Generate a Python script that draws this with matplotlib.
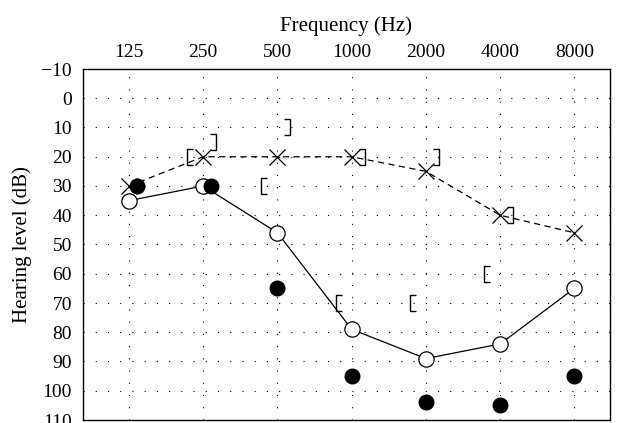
import numpy as np
import matplotlib
matplotlib.use("Agg")
import matplotlib.pyplot as plt
from matplotlib.path import Path
from matplotlib.transforms import ScaledTranslation

# audiogram data (dB HL), frequencies on top axis
freqs = [125, 250, 500, 1000, 2000, 4000, 8000]
right_ac = [35, 30, 46, 79, 89, 84, 65]          # open circles, solid line
left_ac = [30, 20, 20, 20, 25, 40, 46]           # crosses, dashed line
bone_freqs = [125, 250, 500, 1000, 2000, 4000, 8000]
bone_vals = [30, 30, 65, 95, 104, 105, 95]       # filled circles
rbr_freqs = [250, 500, 1000, 2000, 4000]
rbr_vals = [20, 30, 70, 70, 60]                  # "[" markers
lbr_freqs = [250, 500, 1000, 2000, 4000]
lbr_vals = [15, 10, 20, 20, 40]                  # "]" markers
yticks = list(range(-10, 111, 10))

plt.rcParams['font.family'] = ['Liberation Serif', 'DejaVu Serif']

fig = plt.figure(figsize=(6.18, 4.23), dpi=100)
ax = fig.add_axes([83 / 618, 3 / 423, 527 / 618, 351 / 423])

def xpos(f):
    return np.log2(np.asarray(f) / 125.0)

# dotted grid
for v in range(0, 101, 10):
    ax.axhline(v, color='black', lw=0.8, ls=(0, (1, 10)), zorder=1)
for x in xpos(freqs):
    ax.axvline(x, color='black', lw=0.8, ls=(0, (1, 10)), zorder=1)

ax.plot(xpos(freqs), right_ac, color='black', lw=0.9, marker='o', ms=11,
        mfc='white', mec='black', mew=0.9, zorder=3)
ax.plot(xpos(freqs), left_ac, color='black', lw=0.9, ls=(0, (5, 3.5)),
        marker='x', ms=11, mew=0.9, zorder=3)

# filled circles, nudged right where they sit on an open circle
shift_r = ScaledTranslation(8 / 100, 0, fig.dpi_scale_trans)
bx = xpos(bone_freqs)
overlap = np.abs(np.array(bone_vals) - np.array(right_ac)) < 8
ax.plot(bx[overlap], np.array(bone_vals)[overlap], ls='none', marker='o', ms=10.5,
        color='black', transform=ax.transData + shift_r, zorder=4)
ax.plot(bx[~overlap], np.array(bone_vals)[~overlap], ls='none', marker='o',
        ms=10.5, color='black', zorder=4)

# bracket markers
rb = Path([(0.4, 1), (-0.4, 1), (-0.4, -1), (0.4, -1)],
          [Path.MOVETO, Path.LINETO, Path.LINETO, Path.LINETO])
lb = Path([(-0.4, 1), (0.4, 1), (0.4, -1), (-0.4, -1)],
          [Path.MOVETO, Path.LINETO, Path.LINETO, Path.LINETO])
off_l = ScaledTranslation(-13 / 100, 0, fig.dpi_scale_trans)
off_r = ScaledTranslation(10 / 100, 0, fig.dpi_scale_trans)
ax.plot(xpos(rbr_freqs), rbr_vals, ls='none', marker=rb, ms=11.5, mfc='none',
        mec='black', mew=1.0, transform=ax.transData + off_l, zorder=3)
ax.plot(xpos(lbr_freqs), lbr_vals, ls='none', marker=lb, ms=11.5, mfc='none',
        mec='black', mew=1.0, transform=ax.transData + off_r, zorder=3)

ax.set_xlim(-0.62, 6.48)
ax.set_ylim(110, -10)
ax.set_yticks(yticks)
ax.set_yticklabels([str(t).replace('-', '\u2212') for t in yticks])
ax.set_xticks(xpos(freqs))
ax.set_xticklabels([str(f) for f in freqs])
ax.xaxis.tick_top()
ax.xaxis.set_label_position('top')
ax.tick_params(axis='both', length=0, labelsize=14, pad=8)
ax.tick_params(axis='x', pad=6)
ax.set_xlabel('Frequency (Hz)', fontsize=15, labelpad=9)
ax.set_ylabel('Hearing level (dB)', fontsize=15, labelpad=7)
for s in ax.spines.values():
    s.set_linewidth(1.0)

fig.savefig('out.png', dpi=100)
